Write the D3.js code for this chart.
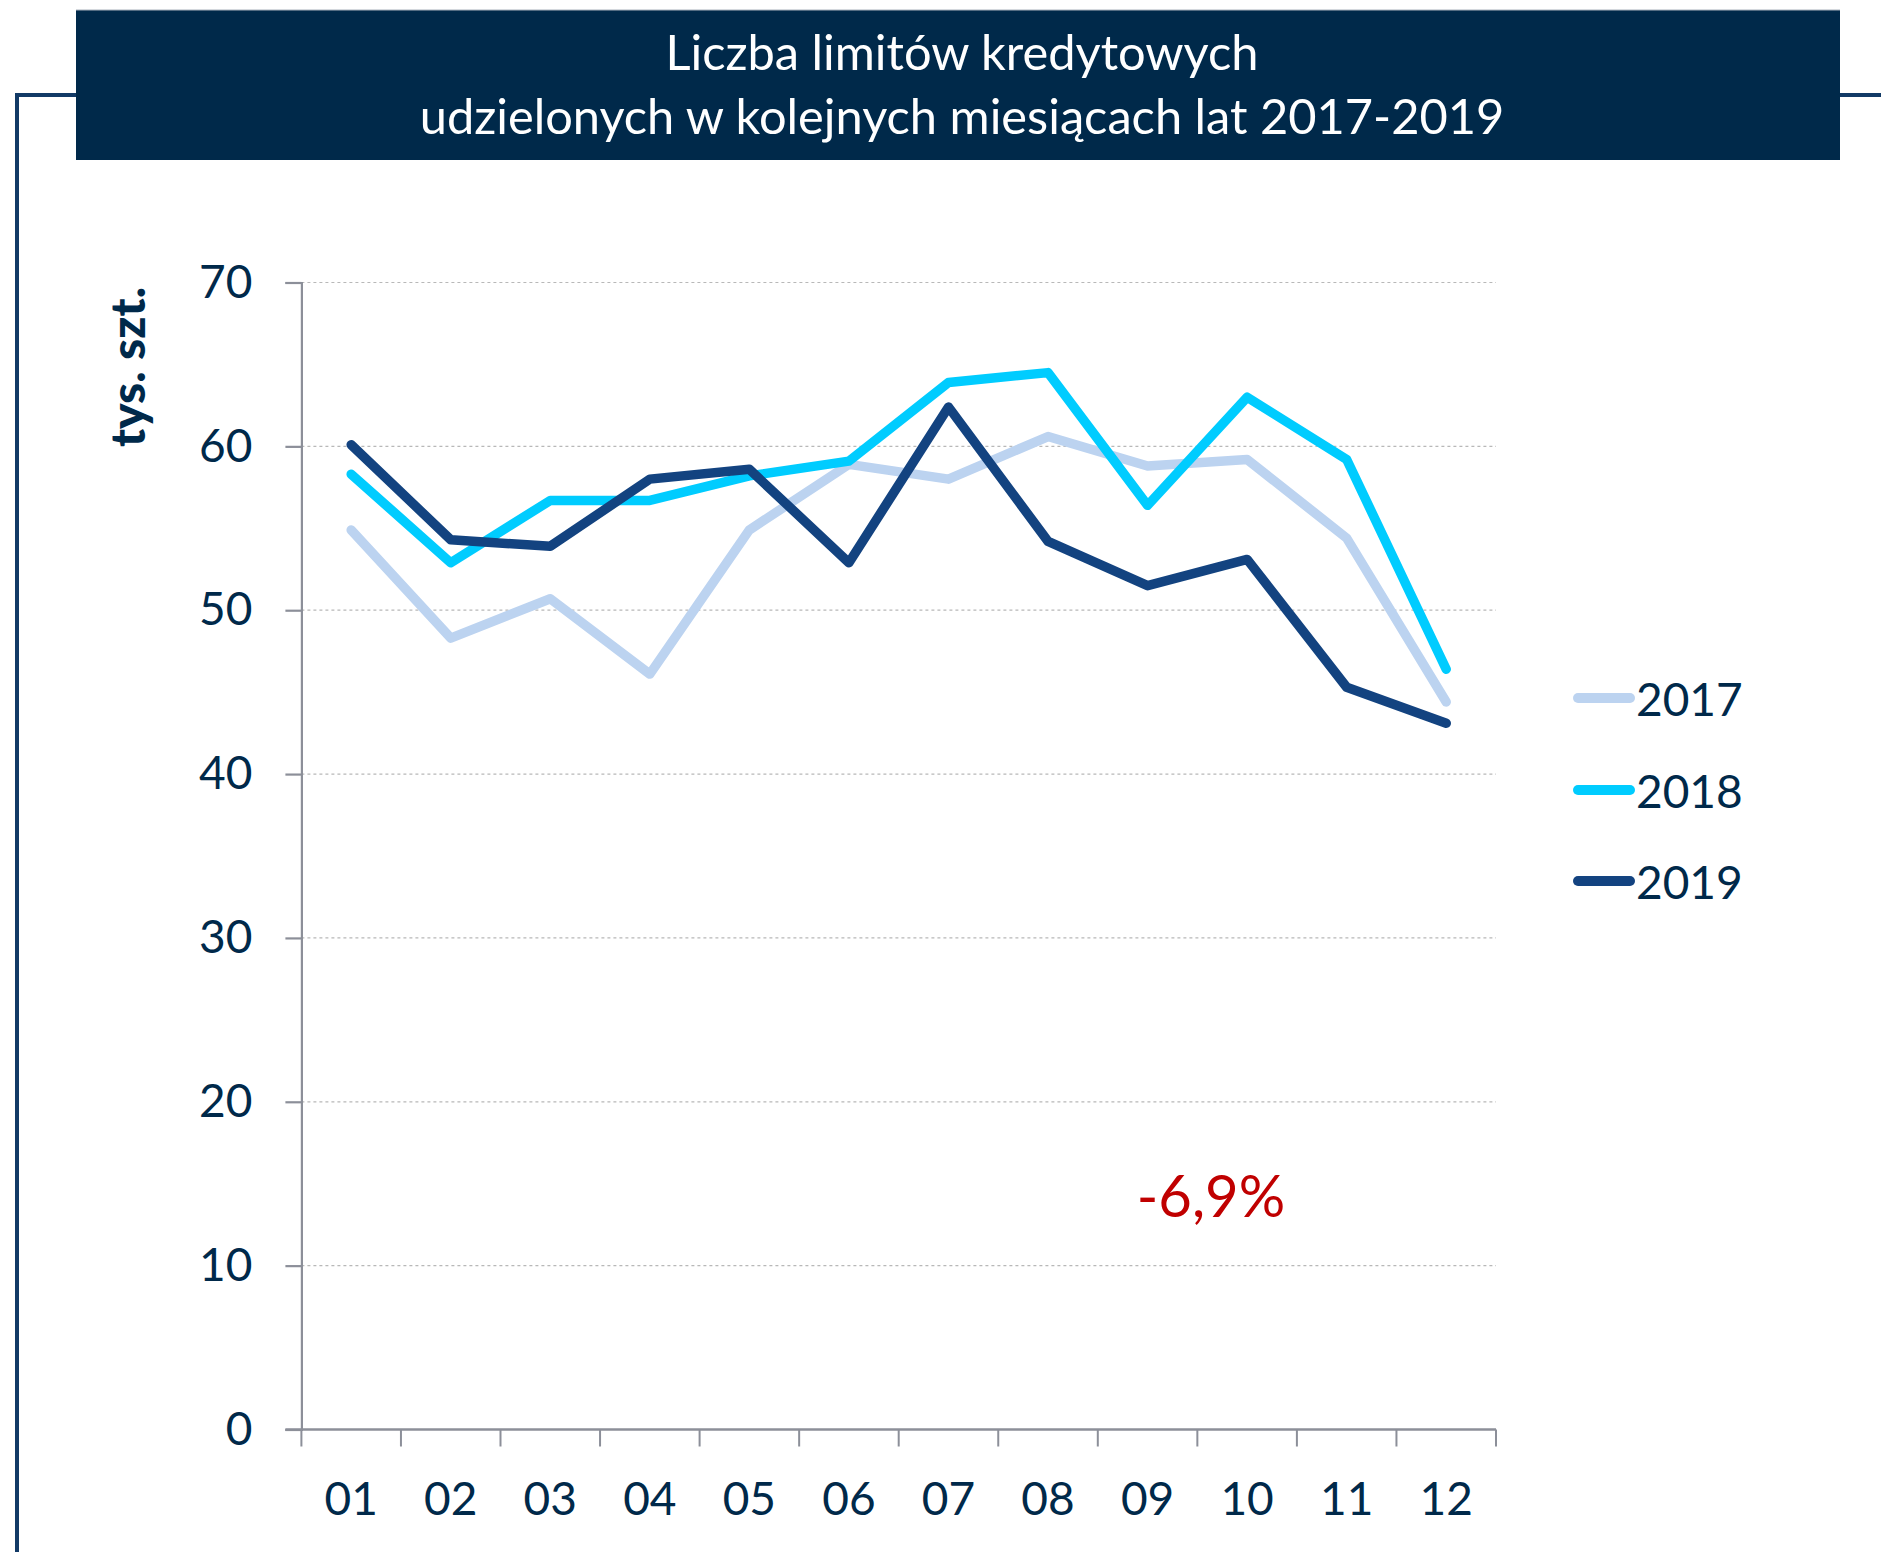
<!DOCTYPE html>
<html>
<head>
<meta charset="utf-8">
<script src="https://cdn.jsdelivr.net/npm/d3@7"></script>
<style>
  html, body { margin: 0; padding: 0; background: #ffffff; }
  svg { display: block; }
</style>
</head>
<body>
<svg id="chart" width="1881" height="1552"></svg>
<script>
// ---- data ----
const months = ["01","02","03","04","05","06","07","08","09","10","11","12"];
const seriesNames = ["2017","2018","2019"];
const values2017 = [54.9, 48.3, 50.7, 46.1, 54.9, 58.9, 58.0, 60.6, 58.8, 59.2, 54.4, 44.4];
const values2018 = [58.3, 52.9, 56.7, 56.7, 58.2, 59.1, 63.9, 64.5, 56.4, 63.0, 59.2, 46.4];
const values2019 = [60.1, 54.3, 53.9, 58.0, 58.6, 52.9, 62.4, 54.2, 51.5, 53.1, 45.3, 43.1];
const yTicks = [0, 10, 20, 30, 40, 50, 60, 70];
const titleLines = ["Liczba limitów kredytowych", "udzielonych w kolejnych miesiącach lat 2017-2019"];
const yAxisTitle = "tys. szt.";
const annotation = "-6,9%";

const colors = {"2017": "#bcd3f0", "2018": "#00ccff", "2019": "#134380"};
const textColor = "#00294a";
const navy = "#00294a";
const font = "Lato, 'Open Sans', 'Noto Sans', sans-serif";

const series = [
  {name: "2017", values: values2017},
  {name: "2018", values: values2018},
  {name: "2019", values: values2019}
];

const svg = d3.select("#chart");

// ---- frame ----
svg.append("path")
  .attr("d", "M17,1552 L17,95 L1881,95")
  .attr("fill", "none").attr("stroke", "#123a66").attr("stroke-width", 4);

// ---- title box ----
svg.append("rect")
  .attr("x", 76).attr("y", 10).attr("width", 1764).attr("height", 150)
  .attr("fill", navy);
svg.append("line").attr("x1", 76).attr("x2", 1840).attr("y1", 10).attr("y2", 10)
  .attr("stroke", "#a9b1bb").attr("stroke-width", 1);

const tl = svg.selectAll(".title").data(titleLines).enter().append("text")
  .attr("class", "title")
  .attr("x", 962)
  .attr("y", (d, i) => i === 0 ? 70 : 134)
  .attr("text-anchor", "middle")
  .attr("fill", "#ffffff")
  .style("font-family", font)
  .style("font-size", "46px")
  .text(d => d);
// fit title width to reference (line 2 ≈ 1085px)
(function(){
  const n = tl.nodes()[1];
  const w = n.getComputedTextLength();
  const fs = 46 * 1085 / w;
  tl.style("font-size", Math.max(38, Math.min(52, fs)) + "px");
})();

// ---- scales ----
const x0 = 301.4, x1 = 1496, yTop = 282.5, yBottom = 1429.5;
const x = d3.scaleBand().domain(months).range([x0, x1]);
const y = d3.scaleLinear().domain([0, 70]).range([yBottom, yTop]);

// grid
svg.append("g").selectAll("line").data(yTicks.filter(t => t > 0)).enter().append("line")
  .attr("x1", x0).attr("x2", x1)
  .attr("y1", d => y(d)).attr("y2", d => y(d))
  .attr("stroke", "#b8b8b8").attr("stroke-width", 1.2)
  .attr("stroke-dasharray", "3,3");

// y axis
const yAxis = svg.append("g").attr("transform", `translate(${x0},0)`)
  .call(d3.axisLeft(y).tickValues(yTicks).tickSize(16).tickPadding(33));
yAxis.select(".domain").attr("stroke", "#8c8f99").attr("stroke-width", 2.2);
yAxis.selectAll(".tick line").attr("stroke", "#8c8f99").attr("stroke-width", 2.2);
yAxis.selectAll(".tick text")
  .attr("fill", textColor)
  .style("font-family", font).style("font-size", "46px");

// x axis
const xAxis = svg.append("g").attr("transform", `translate(0,${yBottom})`)
  .call(d3.axisBottom(x).tickSize(0).tickPadding(0));
xAxis.select(".domain").remove();
xAxis.selectAll(".tick text")
  .attr("fill", textColor)
  .attr("dy", 0)
  .attr("y", 85)
  .style("font-family", font).style("font-size", "46px");
svg.append("line").attr("x1", x0 - 16).attr("x2", x1)
  .attr("y1", yBottom).attr("y2", yBottom)
  .attr("stroke", "#8c8f99").attr("stroke-width", 2.6);
const bounds = months.map(m => x(m)).concat([x1]);
svg.append("g").selectAll("line").data(bounds).enter().append("line")
  .attr("x1", d => d).attr("x2", d => d)
  .attr("y1", yBottom).attr("y2", yBottom + 17)
  .attr("stroke", "#8c8f99").attr("stroke-width", 2);

// y-axis title
const yt = svg.append("text")
  .attr("transform", "translate(126,367) rotate(-90)")
  .attr("text-anchor", "middle")
  .attr("dominant-baseline", "central")
  .attr("fill", textColor)
  .style("font-family", font).style("font-weight", "900").style("font-size", "38px")
  .text(yAxisTitle);
(function(){
  const w = yt.node().getComputedTextLength();
  const fs = 38 * 168 / w;
  yt.style("font-size", Math.max(30, Math.min(48, fs)) + "px");
})();

// lines
const line = d3.line()
  .x((d, i) => x(months[i]) + x.bandwidth() / 2)
  .y(d => y(d));
svg.append("g").selectAll("path").data(series).enter().append("path")
  .attr("d", d => line(d.values))
  .attr("fill", "none")
  .attr("stroke", d => colors[d.name])
  .attr("stroke-width", 9.5)
  .attr("stroke-linejoin", "round")
  .attr("stroke-linecap", "round");

// legend
const legendY = [698, 790, 881];
const lg = svg.append("g").selectAll("g").data(seriesNames).enter().append("g")
  .attr("transform", (d, i) => `translate(0,${legendY[i]})`);
lg.append("line").attr("x1", 1578).attr("x2", 1630).attr("y1", 0).attr("y2", 0)
  .attr("stroke", d => colors[d]).attr("stroke-width", 10).attr("stroke-linecap", "round");
lg.append("text").attr("x", 1636).attr("y", 0)
  .attr("dominant-baseline", "central")
  .attr("fill", textColor)
  .style("font-family", font).style("font-size", "46px")
  .text(d => d);

// annotation
svg.append("text")
  .attr("x", 1211).attr("y", 1194)
  .attr("text-anchor", "middle")
  .attr("dominant-baseline", "central")
  .attr("fill", "#c00000")
  .style("font-family", font).style("font-size", "58px")
  .text(annotation);
</script>
</body>
</html>
